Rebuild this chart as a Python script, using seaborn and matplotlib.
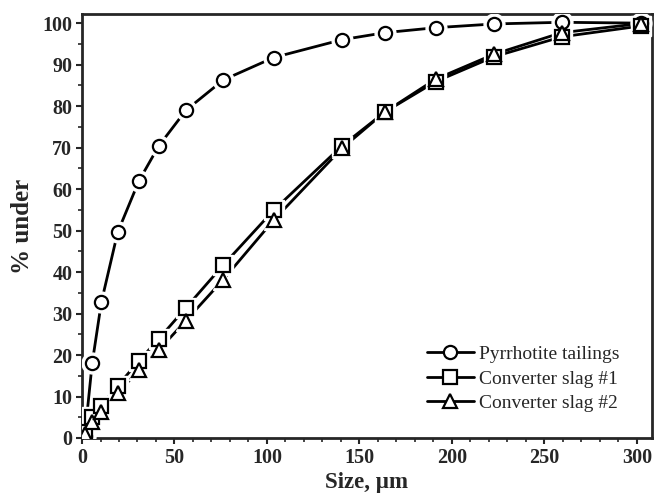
import numpy as np
import pandas as pd
import matplotlib
matplotlib.use("Agg")
import matplotlib.pyplot as plt
import seaborn as sns
from matplotlib.lines import Line2D
from matplotlib.ticker import MultipleLocator

# particle size (um)
size_um = [1.5, 5.5, 10.5, 19.3, 30.8, 41.5, 56.2, 76.4, 103.6, 140.5, 163.8, 191.2, 222.7, 259.3, 302.0]

pyrrhotite = [0.5, 18.0, 32.8, 49.6, 62.0, 70.4, 79.0, 86.3, 91.7, 96.0, 97.7, 98.9, 99.8, 100.2, 100.0]
slag1 = [1.5, 5.0, 7.8, 12.6, 18.6, 23.9, 31.4, 41.7, 54.9, 70.4, 78.6, 85.9, 91.9, 96.7, 99.3]
slag2 = [1.0, 3.8, 6.3, 10.8, 16.4, 21.2, 28.3, 38.2, 52.5, 69.8, 78.6, 86.5, 92.5, 97.7, 99.9]

labels = ["Pyrrhotite tailings", "Converter slag #1", "Converter slag #2"]
markers = ["o", "s", "^"]

sns.set_style("ticks")
plt.rcParams["font.family"] = ["Liberation Serif", "DejaVu Serif"]

fig = plt.figure(figsize=(6.55, 4.98), dpi=100)
ax = fig.add_axes([0.1252, 0.1205, 0.8698, 0.8514])

for vals, lab, m in zip([pyrrhotite, slag1, slag2], labels, markers):
    df = pd.DataFrame({"size": size_um, "under": vals})
    sns.lineplot(data=df, x="size", y="under", ax=ax, color="black", lw=2.0,
                 sort=False, zorder=2)
    # white halo so the line stops short of each marker
    ax.plot(df["size"], df["under"], ls="none", marker=m, ms=15,
            mfc="white", mec="white", zorder=3, clip_on=True)
    ax.plot(df["size"], df["under"], ls="none", marker=m, ms=9.5,
            mfc="white", mec="black", mew=1.6, zorder=4, clip_on=True)

ax.set_xlim(0, 308)
ax.set_ylim(0, 102.2)
ax.xaxis.set_major_locator(MultipleLocator(50))
ax.xaxis.set_minor_locator(MultipleLocator(10))
ax.yaxis.set_major_locator(MultipleLocator(10))
ax.yaxis.set_minor_locator(MultipleLocator(5))
ax.tick_params(which="major", length=4.5, width=1.5, direction="out",
               labelsize=14.5, pad=2.5)
ax.tick_params(which="minor", length=2.8, width=1.2, direction="out")
for lbl in ax.get_xticklabels() + ax.get_yticklabels():
    lbl.set_fontweight("bold")
for sp in ax.spines.values():
    sp.set_visible(True)
    sp.set_linewidth(2.0)

ax.set_xlabel("Size, \u00b5m", fontsize=16.5, fontweight="bold", labelpad=3)
ax.set_ylabel("% under", fontsize=18, fontweight="bold", labelpad=6)

handles = [Line2D([0], [0], color="black", lw=2.0, marker=m, ms=9.5,
                  mfc="white", mec="black", mew=1.6) for m in markers]
ax.legend(handles, labels, loc="lower right", bbox_to_anchor=(0.975, 0.02),
          frameon=False, fontsize=14, handlelength=2.4, handletextpad=0.3,
          labelspacing=0.35)

fig.savefig("out.png", dpi=100)
